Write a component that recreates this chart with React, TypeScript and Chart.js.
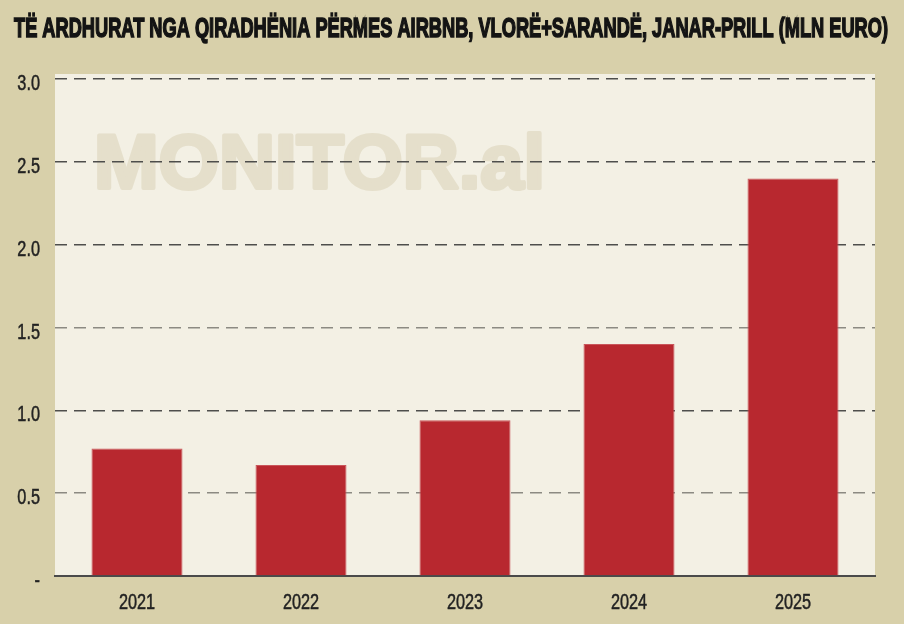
import React, { useEffect, useRef } from "react";
import { Chart, registerables } from "chart.js";

Chart.register(...registerables);

const titleText = "TË ARDHURAT NGA QIRADHËNIA PËRMES AIRBNB, VLORË+SARANDË, JANAR-PRILL (MLN EURO)";
const watermarkText = "MONITOR.al";
const categories = ["2021", "2022", "2023", "2024", "2025"];
const revenueValues = [0.77, 0.67, 0.94, 1.4, 2.4];
const yTickValues = [0, 0.5, 1, 1.5, 2, 2.5, 3];
const yTickLabels = ["-", "0.5", "1.0", "1.5", "2.0", "2.5", "3.0"];

const LABEL_FONT = "22px 'Liberation Sans', Arial, sans-serif";
const LABEL_SQUEEZE = 0.74;

function drawSqueezed(ctx: any, text: string, x: number, y: number, align: "right" | "center") {
  const w = ctx.measureText(text).width * LABEL_SQUEEZE;
  const left = align === "right" ? x - w : x - w / 2;
  ctx.save();
  ctx.translate(left, y);
  ctx.scale(LABEL_SQUEEZE, 1);
  ctx.fillText(text, 0, 0);
  ctx.lineWidth = 0.5;
  ctx.strokeText(text, 0, 0);
  ctx.restore();
}

const decorPlugin = {
  id: "decor",
  beforeDraw(chart: any) {
    const { ctx, chartArea, width, height } = chart;
    ctx.save();
    ctx.fillStyle = "#d8d0aa";
    ctx.fillRect(0, 0, width, height);
    ctx.fillStyle = "#f3f0e4";
    ctx.fillRect(chartArea.left, chartArea.top - 5, chartArea.right - chartArea.left, chartArea.bottom - chartArea.top + 5);
    ctx.font = "bold 76px 'Liberation Sans', Arial, sans-serif";
    ctx.fillStyle = "#e5dfcb";
    ctx.strokeStyle = "#e5dfcb";
    ctx.lineJoin = "round";
    ctx.textBaseline = "alphabetic";
    const wm = ctx.measureText(watermarkText).width;
    ctx.translate(chartArea.left + 39, 188);
    ctx.scale(451 / wm, 1);
    ctx.fillText(watermarkText, 0, 0);
    ctx.lineWidth = 4;
    ctx.strokeText(watermarkText, 0, 0);
    ctx.restore();

    ctx.save();
    ctx.font = "bold 28px 'Liberation Sans', sans-serif";
    ctx.fillStyle = "#141414";
    ctx.textBaseline = "alphabetic";
    const tw = ctx.measureText(titleText).width;
    ctx.translate(14, 37);
    ctx.scale(874 / tw, 1);
    ctx.fillText(titleText, 0, 0);
    ctx.lineWidth = 1.6;
    ctx.strokeStyle = "#141414";
    ctx.strokeText(titleText, 0, 0);
    ctx.restore();
  },
  afterDraw(chart: any) {
    const { ctx } = chart;
    const xs = chart.scales.x;
    const ys = chart.scales.y;
    ctx.save();
    ctx.font = LABEL_FONT;
    ctx.fillStyle = "#222";
    ctx.strokeStyle = "#222";
    ctx.textBaseline = "alphabetic";
    ys.ticks.forEach((_t: any, i: number) => {
      const py = ys.getPixelForTick(i);
      drawSqueezed(ctx, yTickLabels[i], ys.right - 15, py + 11, "right");
    });
    xs.ticks.forEach((_t: any, i: number) => {
      const px = xs.getPixelForTick(i);
      drawSqueezed(ctx, categories[i], px, xs.top + 33, "center");
    });
    ctx.restore();
  },
};

export default function App() {
  const canvasRef = useRef<HTMLCanvasElement | null>(null);

  useEffect(() => {
    document.body.style.margin = "0";
    const canvas = canvasRef.current;
    if (!canvas) return;
    const chart = new Chart(canvas, {
      type: "bar",
      data: {
        labels: categories,
        datasets: [
          {
            data: revenueValues,
            backgroundColor: "#b8282f",
            borderColor: "#c9555a",
            borderWidth: 1,
            borderSkipped: "bottom",
            categoryPercentage: 1,
            barPercentage: 0.555,
          },
        ],
      },
      options: {
        responsive: false,
        animation: false,
        devicePixelRatio: 1,
        layout: { padding: { left: 0, right: 29, top: 79, bottom: 0 } },
        plugins: {
          legend: { display: false },
          title: { display: false },
          tooltip: { enabled: false },
        },
        scales: {
          x: {
            grid: { display: false },
            border: { display: true, color: "#4a4a4a", width: 2 },
            ticks: { display: false },
            afterFit(scale: any) {
              scale.height = 48;
            },
          },
          y: {
            min: 0,
            max: 3,
            afterBuildTicks(scale: any) {
              scale.ticks = yTickValues.map((v) => ({ value: v }));
            },
            grid: {
              color: (c: any) => {
                const v = c.tick ? c.tick.value : 0;
                if (v === 0) return "rgba(0,0,0,0)";
                if (v === 0.5 || v === 1.5) return "#8c8a82";
                return "#4e4e4c";
              },
              lineWidth: 1.5,
              drawTicks: false,
            },
            border: { display: false, dash: [12, 7] },
            ticks: { display: false },
            afterFit(scale: any) {
              scale.width = 55;
            },
          },
        },
      },
      plugins: [decorPlugin],
    } as any);
    return () => chart.destroy();
  }, []);

  return (
    <div style={{ width: 904, height: 624 }}>
      <canvas ref={canvasRef} width={904} height={624} style={{ display: "block", width: 904, height: 624 }} />
    </div>
  );
}
